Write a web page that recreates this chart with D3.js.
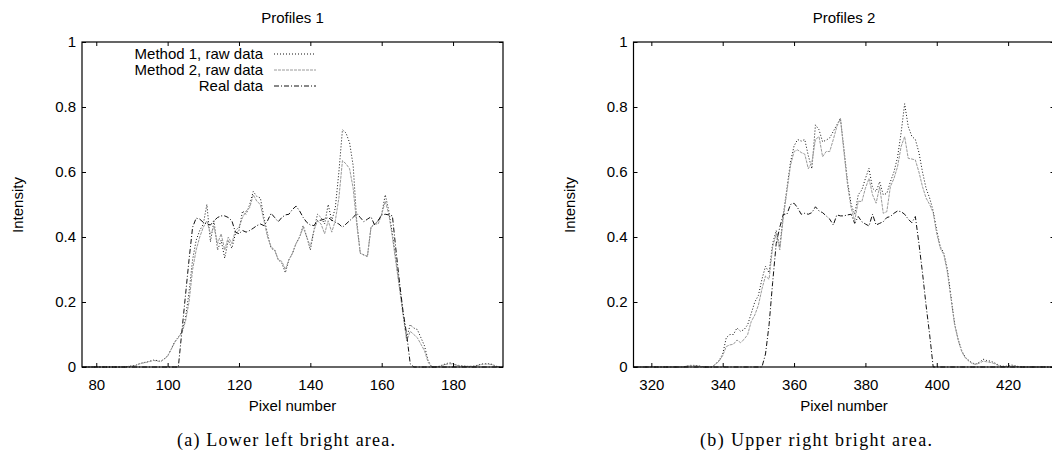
<!DOCTYPE html>
<html>
<head>
<meta charset="utf-8">
<script src="https://cdn.jsdelivr.net/npm/d3@7"></script>
<style>
  body { margin: 0; background: #fff; }
  svg { display: block; }
  .tick text { font-family: "Liberation Sans", Arial, sans-serif; font-size: 15px; fill: #000; }
  .lbl { font-family: "Liberation Sans", Arial, sans-serif; font-size: 15px; fill: #000; }
  .cap { font-family: "Liberation Serif", "DejaVu Serif", serif; font-size: 18px; fill: #000; }
</style>
</head>
<body>
<div id="chart"></div>
<script>
// pixel positions of each profile (consecutive integer pixels)
const pixels1 = d3.range(76, 195);
const pixels2 = d3.range(315, 434);

// Profiles 1
const method1_p1 = [
  0,0,0,0,0,0,0,0,0,0,
  0,0,0,0.002,0.003,0.005,0.01,0.013,0.015,0.018,
  0.021,0.02,0.017,0.025,0.034,0.055,0.078,0.092,0.108,0.15,
  0.23,0.33,0.39,0.42,0.44,0.5,0.385,0.45,0.36,0.39,
  0.335,0.39,0.365,0.41,0.42,0.48,0.47,0.5,0.54,0.525,
  0.52,0.46,0.41,0.365,0.36,0.33,0.32,0.29,0.33,0.35,
  0.38,0.4,0.435,0.4,0.36,0.42,0.47,0.46,0.44,0.5,
  0.45,0.49,0.6,0.73,0.72,0.69,0.62,0.45,0.35,0.345,
  0.34,0.43,0.44,0.45,0.47,0.53,0.48,0.41,0.33,0.25,
  0.165,0.09,0.13,0.12,0.115,0.09,0.065,0.02,0,0,
  0.002,0.006,0.01,0.013,0.01,0.006,0.004,0.003,0.002,0.002,
  0.003,0.006,0.009,0.01,0.01,0.008,0.003,0,0
];
const method2_p1 = [
  0,0,0,0,0,0,0,0,0,0,
  0,0,0,0.002,0.003,0.004,0.009,0.012,0.014,0.017,
  0.02,0.019,0.016,0.024,0.033,0.054,0.076,0.09,0.105,0.14,
  0.2,0.3,0.36,0.4,0.43,0.45,0.41,0.43,0.38,0.41,
  0.36,0.4,0.38,0.42,0.43,0.46,0.48,0.49,0.53,0.51,
  0.5,0.45,0.4,0.37,0.36,0.33,0.325,0.3,0.33,0.35,
  0.38,0.4,0.43,0.4,0.37,0.42,0.45,0.44,0.41,0.45,
  0.415,0.45,0.52,0.635,0.625,0.61,0.55,0.44,0.35,0.345,
  0.34,0.43,0.44,0.44,0.47,0.51,0.47,0.4,0.32,0.24,
  0.16,0.08,0.11,0.1,0.09,0.07,0.05,0.015,0,0,
  0.001,0.005,0.008,0.01,0.009,0.005,0.003,0.002,0.002,0.002,
  0.002,0.005,0.008,0.009,0.009,0.007,0.002,0,0
];
const real_p1 = [
  0,0,0,0,0,0,0,0,0,0,
  0,0,0,0,0,0,0,0,0,0,
  0,0,0,0,0,0,0,0,0.11,0.22,
  0.33,0.43,0.458,0.455,0.445,0.44,0.437,0.45,0.46,0.465,
  0.465,0.46,0.45,0.415,0.41,0.42,0.415,0.42,0.427,0.435,
  0.44,0.435,0.45,0.473,0.46,0.447,0.46,0.468,0.47,0.485,
  0.495,0.48,0.46,0.445,0.437,0.435,0.45,0.452,0.455,0.46,
  0.452,0.445,0.44,0.43,0.44,0.45,0.46,0.473,0.46,0.447,
  0.455,0.462,0.437,0.45,0.468,0.47,0.468,0.465,0.36,0.26,
  0.17,0.1,0.01,0,0,0,0,0,0,0,
  0,0,0,0,0,0,0,0,0,0,
  0,0,0,0,0,0,0,0,0
];

// Profiles 2
const method1_p2 = [
  0,0,0,0,0,0,0,0,0,0,
  0,0,0,0,0,0.003,0.005,0.005,0.004,0.002,
  0,0,0,0.01,0.02,0.04,0.09,0.1,0.1,0.12,
  0.11,0.115,0.13,0.165,0.2,0.22,0.27,0.31,0.29,0.38,
  0.42,0.37,0.47,0.55,0.63,0.68,0.7,0.695,0.7,0.65,
  0.61,0.745,0.73,0.693,0.698,0.705,0.725,0.745,0.765,0.67,
  0.57,0.5,0.47,0.53,0.545,0.58,0.611,0.55,0.54,0.57,
  0.53,0.534,0.57,0.6,0.645,0.72,0.81,0.74,0.71,0.7,
  0.66,0.6,0.55,0.52,0.48,0.42,0.37,0.35,0.3,0.216,
  0.134,0.085,0.05,0.03,0.02,0.012,0.009,0.015,0.024,0.02,
  0.018,0.014,0.008,0.003,0.002,0.003,0.006,0.004,0.001,0,
  0,0,0,0,0,0,0,0,0
];
const method2_p2 = [
  0,0,0,0,0,0,0,0,0,0,
  0,0,0,0,0,0.003,0.004,0.004,0.003,0.001,
  0,0,0,0.008,0.018,0.035,0.063,0.068,0.07,0.083,
  0.075,0.085,0.1,0.14,0.16,0.19,0.24,0.28,0.27,0.37,
  0.41,0.36,0.46,0.54,0.62,0.663,0.668,0.66,0.655,0.61,
  0.63,0.7,0.709,0.647,0.663,0.663,0.7,0.74,0.765,0.66,
  0.56,0.49,0.45,0.51,0.509,0.55,0.58,0.53,0.504,0.555,
  0.473,0.478,0.555,0.58,0.616,0.678,0.709,0.642,0.64,0.637,
  0.6,0.555,0.52,0.5,0.475,0.41,0.365,0.345,0.29,0.21,
  0.13,0.083,0.047,0.028,0.018,0.01,0.008,0.012,0.018,0.016,
  0.014,0.011,0.006,0.002,0.001,0.002,0.004,0.002,0,0,
  0,0,0,0,0,0,0,0,0
];
const real_p2 = [
  0,0,0,0,0,0,0,0,0,0,
  0,0,0,0,0,0,0,0,0,0,
  0,0,0,0,0,0,0,0,0,0,
  0,0,0,0,0,0,0,0.04,0.13,0.26,
  0.38,0.43,0.47,0.47,0.5,0.504,0.49,0.47,0.473,0.47,
  0.475,0.493,0.48,0.475,0.465,0.455,0.437,0.468,0.465,0.465,
  0.468,0.47,0.442,0.463,0.447,0.44,0.434,0.47,0.437,0.442,
  0.447,0.46,0.463,0.473,0.48,0.478,0.47,0.455,0.444,0.463,
  0.38,0.29,0.19,0.1,0,0,0,0,0,0,
  0,0,0,0,0,0,0,0,0,0,
  0,0,0,0,0,0,0,0,0,0,
  0,0,0,0,0,0,0,0,0
];

const seriesNames = ["Method 1, raw data", "Method 2, raw data", "Real data"];
const xTicks1 = [80, 100, 120, 140, 160, 180];
const xTicks2 = [320, 340, 360, 380, 400, 420];
const yTicks = [0, 0.2, 0.4, 0.6, 0.8, 1];

const styles = [
  { stroke: "#111", dash: "1,2" },
  { stroke: "#9a9a9a", dash: "3,1" },
  { stroke: "#111", dash: "5,2,1,2" }
];

const W = 1052, H = 451;
const plotTop = 42, plotBottom = 367;

const svg = d3.select("#chart").append("svg")
  .attr("width", W).attr("height", H);

const panels = [
  { left: 82, right: 503, domain: [76, 194], pixels: pixels1,
    data: [method1_p1, method2_p1, real_p1], ticks: xTicks1,
    title: "Profiles 1", caption: "(a) Lower left bright area.", capX: 286, capW: 218, legend: true },
  { left: 633.5, right: 1054.5, domain: [315, 433], pixels: pixels2,
    data: [method1_p2, method2_p2, real_p2], ticks: xTicks2,
    title: "Profiles 2", caption: "(b) Upper right bright area.", capX: 816, capW: 232, legend: false }
];

const y = d3.scaleLinear().domain([0, 1]).range([plotBottom, plotTop]);

panels.forEach(p => {
  const x = d3.scaleLinear().domain(p.domain).range([p.left, p.right]);
  const g = svg.append("g");

  // series
  p.data.forEach((vals, i) => {
    const line = d3.line()
      .x((d, k) => x(p.pixels[k]))
      .y(d => y(d));
    g.append("path")
      .datum(vals)
      .attr("d", line)
      .attr("fill", "none")
      .attr("stroke", styles[i].stroke)
      .attr("stroke-width", 1)
      .attr("stroke-dasharray", styles[i].dash);
  });

  // axes, ticks pointing inwards like gnuplot
  const xb = g.append("g").attr("transform", `translate(0,${plotBottom})`)
    .call(d3.axisBottom(x).tickValues(p.ticks).tickSize(-4).tickPadding(12).tickFormat(d3.format("d")));
  const xt = g.append("g").attr("transform", `translate(0,${plotTop})`)
    .call(d3.axisTop(x).tickValues(p.ticks).tickSize(-4).tickFormat(""));
  const yl = g.append("g").attr("transform", `translate(${p.left},0)`)
    .call(d3.axisLeft(y).tickValues(yTicks).tickSize(-4).tickPadding(6).tickFormat(d => d3.format("~g")(d)));
  const yr = g.append("g").attr("transform", `translate(${p.right},0)`)
    .call(d3.axisRight(y).tickValues(yTicks).tickSize(-4).tickFormat(""));
  [xb, xt, yl, yr].forEach(a => {
    a.select(".domain").remove();
    a.selectAll(".tick line").attr("stroke", "#000");
    a.attr("font-family", null).attr("font-size", null);
  });

  g.append("rect")
    .attr("x", p.left).attr("y", plotTop)
    .attr("width", p.right - p.left).attr("height", plotBottom - plotTop)
    .attr("fill", "none").attr("stroke", "#000").attr("stroke-width", 1.2);

  const cx = (p.left + p.right) / 2;
  g.append("text").attr("class", "lbl")
    .attr("x", cx).attr("y", 23).attr("text-anchor", "middle").text(p.title);
  g.append("text").attr("class", "lbl")
    .attr("x", cx).attr("y", 411).attr("text-anchor", "middle").text("Pixel number");
  g.append("text").attr("class", "lbl")
    .attr("transform", `translate(${p.left - 59},205) rotate(-90)`)
    .attr("text-anchor", "middle").text("Intensity");
  g.append("text").attr("class", "cap")
    .attr("x", p.capX).attr("y", 446).attr("text-anchor", "middle")
    .attr("textLength", p.capW).attr("lengthAdjust", "spacing")
    .text(p.caption);

  if (p.legend) {
    const lg = g.append("g");
    seriesNames.forEach((name, i) => {
      const ly = 54 + i * 16;
      lg.append("text").attr("class", "lbl")
        .attr("x", 263).attr("y", ly + 5).attr("text-anchor", "end").text(name);
      lg.append("line")
        .attr("x1", 274).attr("x2", 316).attr("y1", ly).attr("y2", ly)
        .attr("stroke", styles[i].stroke).attr("stroke-width", 1)
        .attr("stroke-dasharray", styles[i].dash);
    });
  }
});
</script>
</body>
</html>
